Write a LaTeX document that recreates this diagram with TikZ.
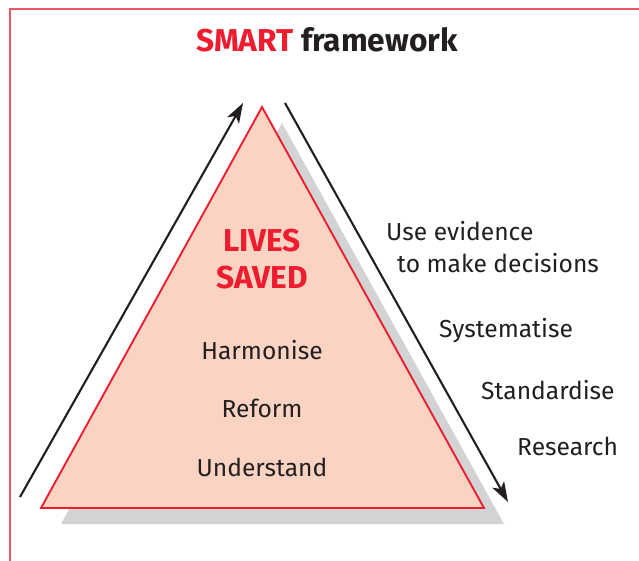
\documentclass[tikz,border=0pt]{standalone}
\usepackage{fontspec}
\setmainfont{Fira Sans}
\usetikzlibrary{arrows.meta}
\definecolor{smartred}{HTML}{ED1C2E}
\definecolor{framered}{HTML}{EC5663}
\definecolor{pyrfill}{HTML}{FBD3C3}
\definecolor{shadowgray}{HTML}{D1D3D4}
\definecolor{inkdark}{HTML}{231F20}
\tikzset{
  step label/.style={font=\fontsize{21}{24}\selectfont, text=inkdark, inner sep=0pt},
  side label/.style={step label, anchor=west},
  flow arrow/.style={draw=inkdark, line width=1.8pt, arrows={-Stealth[length=0.6cm, width=0.4cm, inset=0.15cm]}}
}
\begin{document}
\begin{tikzpicture}[x=0.03cm, y=-0.03cm]
  \useasboundingbox (0,0) rectangle (639,561);
  % Frame
  \draw[framered, line width=1.2pt] (10,561) -- (10,9) -- (639,9);

  % Title
  \node[font=\bfseries\fontsize{27}{30}\selectfont, text=inkdark] (title) at (327,40)
    {\textcolor{smartred}{SMART} framework};

  % Pyramid corners
  \coordinate (top) at (262,107);
  \coordinate (bl) at (41,508);
  \coordinate (br) at (484,508);

  % Shadow and pyramid
  \fill[shadowgray] ([shift={(20,16)}]top) -- ([shift={(20,16)}]bl) -- ([shift={(20,16)}]br) -- cycle;
  \draw[smartred, fill=pyrfill, line width=1.6pt] (top) -- (bl) -- (br) -- cycle;

  % Arrows
  \coordinate (up0) at (20,497);
  \coordinate (up1) at (243,103);
  \coordinate (dn0) at (285,103);
  \coordinate (dn1) at (508,502);
  \draw[flow arrow] (up0) -- (up1);
  \draw[flow arrow] (dn0) -- (dn1);

  % Inside
  \node[font=\bfseries\fontsize{27}{32}\selectfont, text=smartred, align=center] (goal) at (262,259)
    {LIVES\\SAVED};
  \node[step label] (harm) at (262,350) {Harmonise};
  \node[step label] (reform) at (262,408) {Reform};
  \node[step label] (under) at (262,467) {Understand};

  % Outside
  \node[side label] (evid1) at (386,231) {Use evidence};
  \node[side label] (evid2) at (397,263) {to make decisions};
  \node[side label] (syst) at (439,331) {Systematise};
  \node[side label] (stand) at (481,390) {Standardise};
  \node[side label] (res) at (517,446) {Research};
\end{tikzpicture}
\end{document}
